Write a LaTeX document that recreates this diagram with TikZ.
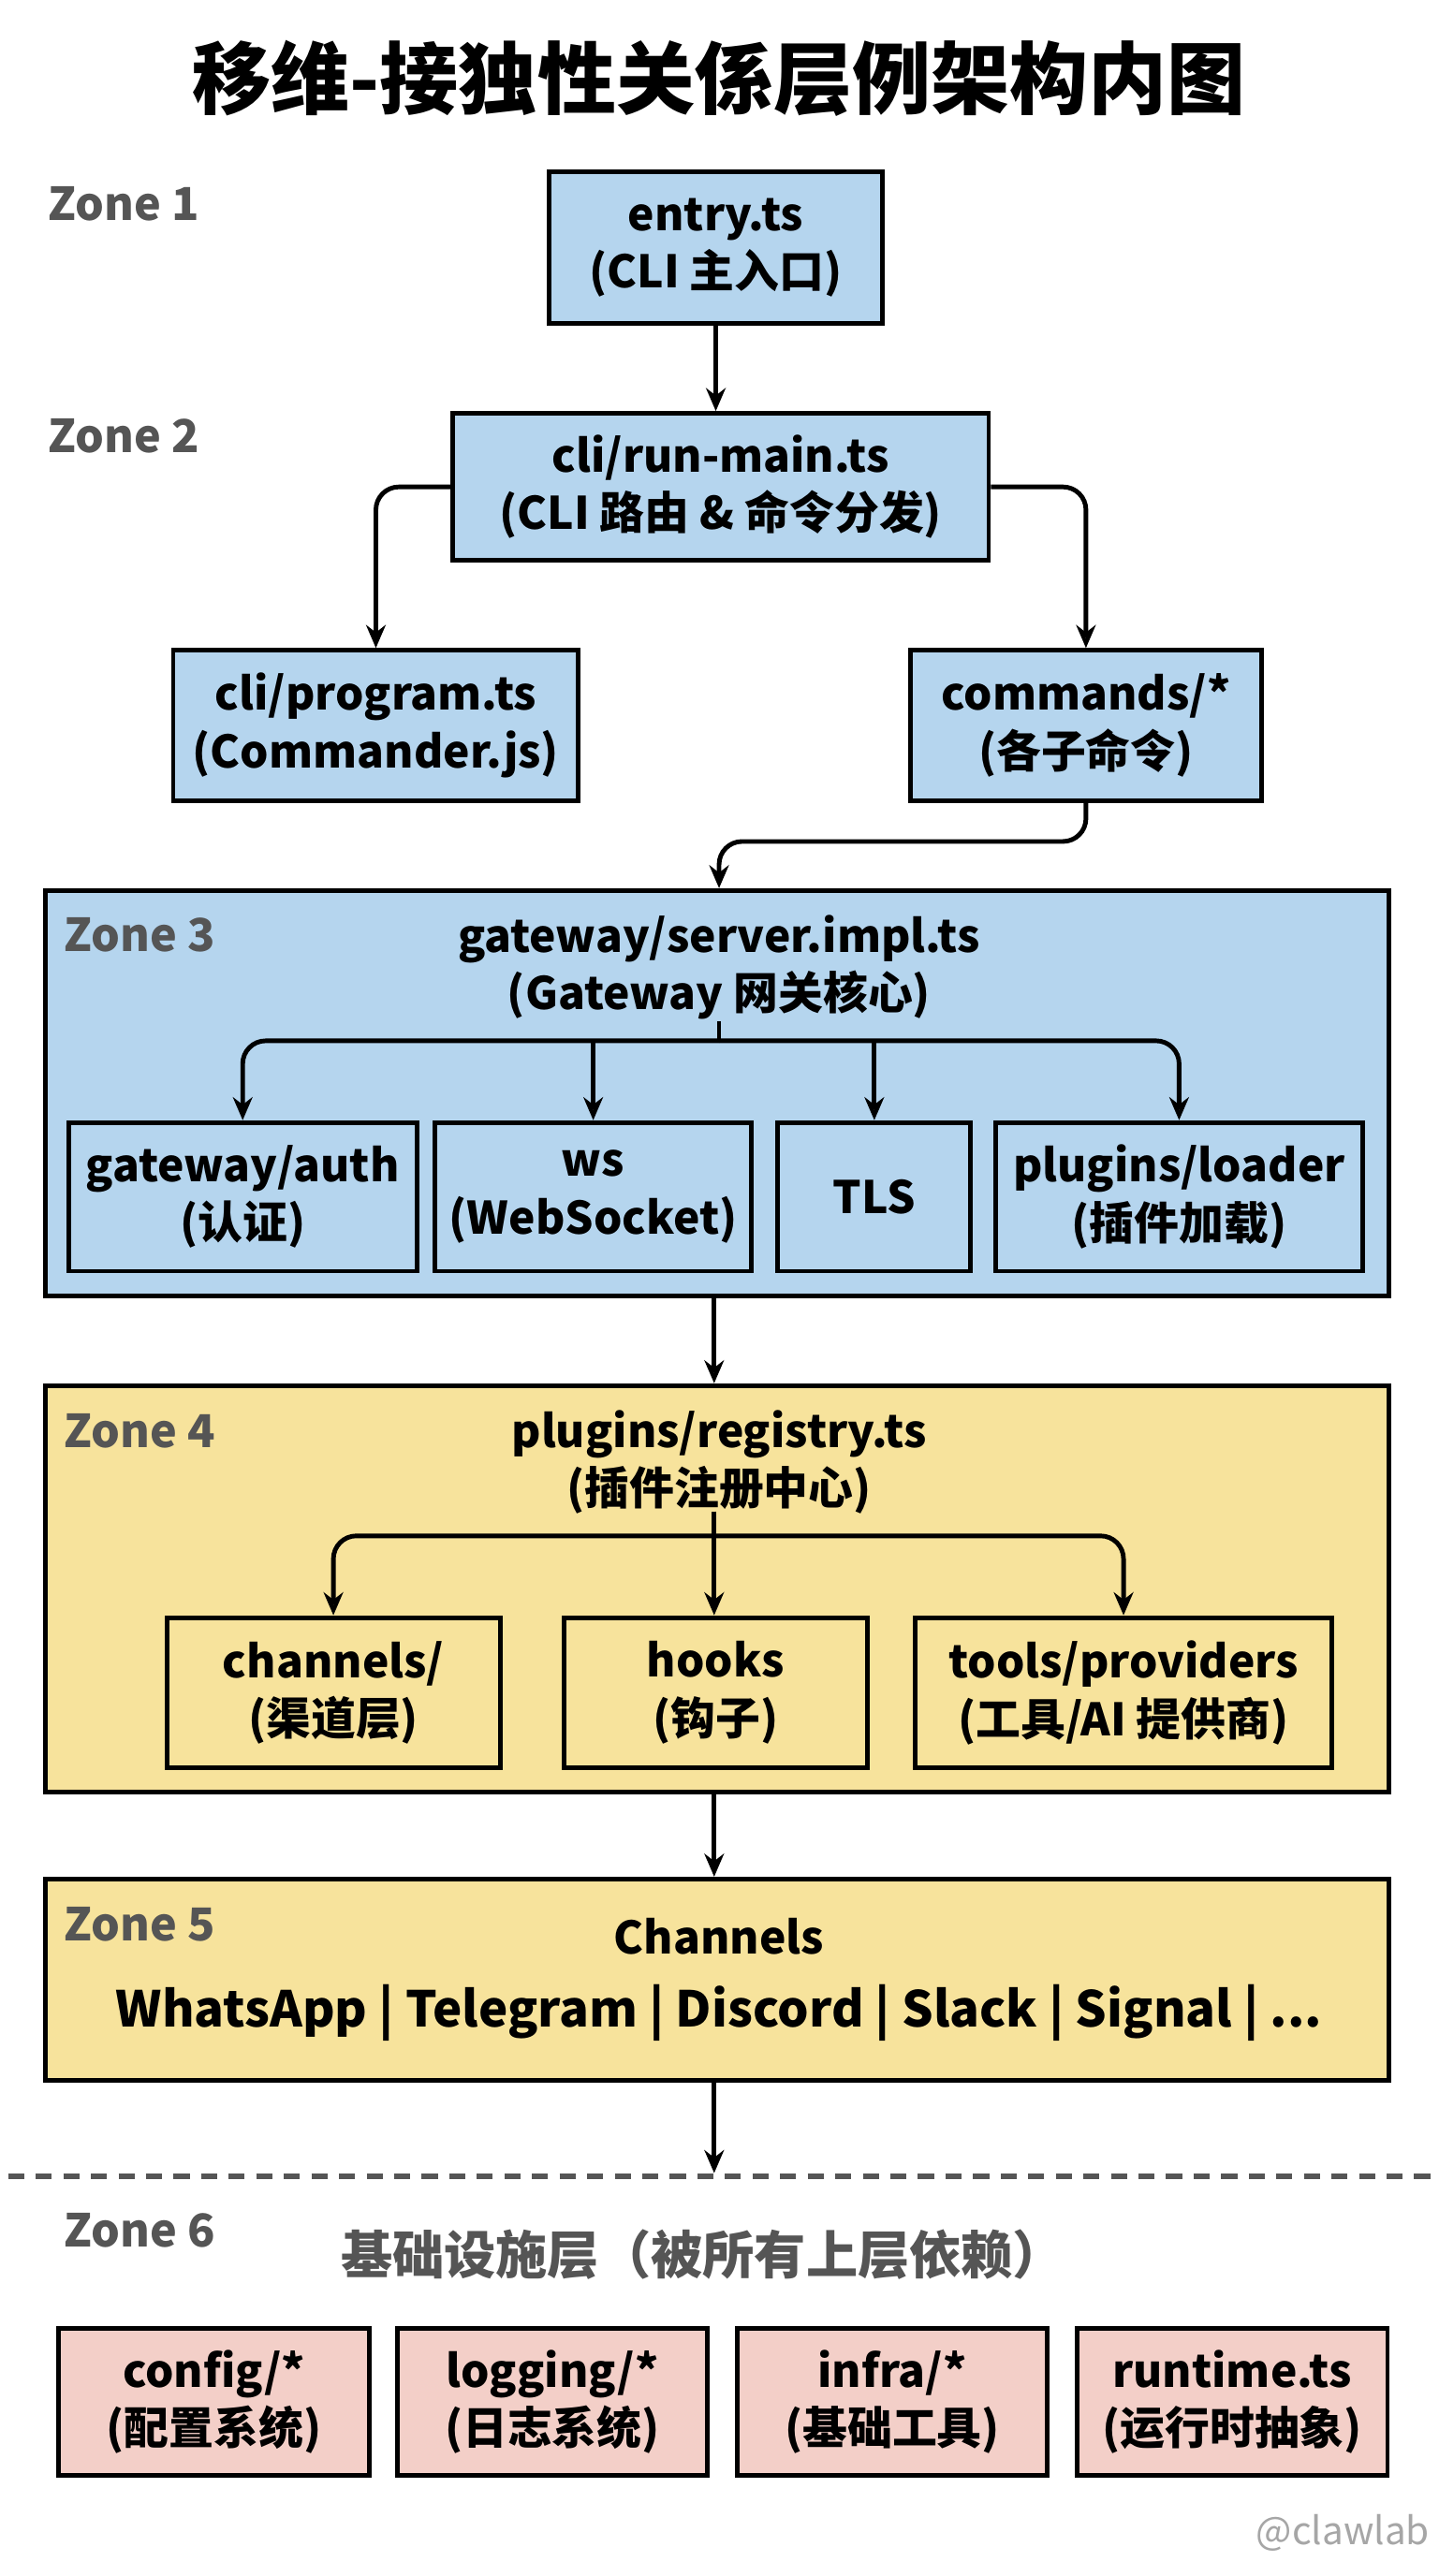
\documentclass[tikz,border=0pt]{standalone}
\usepackage{fontspec}
\setmainfont{Noto Sans CJK SC}
\usetikzlibrary{arrows.meta}
\definecolor{bl}{HTML}{B5D5EE}
\definecolor{yl}{HTML}{F7E39C}
\definecolor{pk}{HTML}{F3CFC8}
\definecolor{zg}{HTML}{555555}
\begin{document}
\begin{tikzpicture}[x=0.1cm,y=-0.1cm,
 bt/.style={font=\fontsize{78}{100}\selectfont\bfseries},
 box/.style={draw=black,line width=8pt,align=center,bt,inner sep=0pt},
 zone/.style={anchor=west,text=zg,font=\fontsize{79}{90}\selectfont\bfseries},
 arr/.style={line width=8pt,-{Stealth[length=40pt,width=34pt,open]},rounded corners=40pt}]
\useasboundingbox[fill=white] (0,0) rectangle (880,1576.6);
\node[font=\fontsize{137}{140}\selectfont\bfseries] (title) at (440,48) {移维-接独性关係层例架构内图};
\node[zone] (z1) at (28,125) {Zone 1};
\node[zone] (z2) at (28,267) {Zone 2};
% zone 1-2
\node[box,fill=bl,minimum width=20.4cm,minimum height=9.3cm] (entry) at (438,151.5) {entry.ts\\(CLI 主入口)};
\node[box,fill=bl,minimum width=32.8cm,minimum height=9cm] (run) at (441,298) {cli/run-main.ts\\(CLI 路由 \& 命令分发)};
\node[box,fill=bl,minimum width=24.8cm,minimum height=9.2cm] (prog) at (230,444) {cli/program.ts\\(Commander.js)};
\node[box,fill=bl,minimum width=21.5cm,minimum height=9.2cm] (cmd) at (664.5,444) {commands/*\\(各子命令)};
% zone 3
\node[box,fill=bl,minimum width=82.2cm,minimum height=24.8cm] (z3) at (439,669) {};
\node[zone] at (38,572) {Zone 3};
\node[align=center,bt] (gw) at (440,592) {gateway/server.impl.ts\\(Gateway 网关核心)};
\node[box,fill=bl,minimum width=21.3cm,minimum height=9.1cm] (auth) at (148.5,732.5) {gateway/auth\\(认证)};
\node[box,fill=bl,minimum width=19.4cm,minimum height=9.1cm] (ws) at (363,732.5) {ws\\(WebSocket)};
\node[box,fill=bl,minimum width=11.8cm,minimum height=9.1cm] (tls) at (535,732.5) {TLS};
\node[box,fill=bl,minimum width=22.5cm,minimum height=9.1cm] (ldr) at (721.5,732.5) {plugins/loader\\(插件加载)};
\coordinate (j3) at (440,637);
% zone 4
\node[box,fill=yl,minimum width=82.2cm,minimum height=24.9cm] (z4) at (439,972.5) {};
\node[zone] at (38,876) {Zone 4};
\node[align=center,bt] (reg) at (440,895) {plugins/registry.ts\\(插件注册中心)};
\node[box,fill=yl,minimum width=20.4cm,minimum height=9.2cm] (chn) at (204,1036) {channels/\\(渠道层)};
\node[box,fill=yl,minimum width=18.6cm,minimum height=9.2cm] (hk) at (438,1036) {hooks\\(钩子)};
\node[box,fill=yl,minimum width=25.5cm,minimum height=9.2cm] (tool) at (687.5,1036) {tools/providers\\(工具/AI 提供商)};
\coordinate (j4) at (437,940);
% zone 5
\node[box,fill=yl,minimum width=82.2cm,minimum height=12.3cm] (z5) at (439,1211.5) {};
\node[zone] at (38,1178) {Zone 5};
\node[bt] (chs) at (440,1185) {Channels};
\node[font=\fontsize{86}{100}\selectfont\bfseries] (chl) at (440,1232) {WhatsApp | Telegram | Discord | Slack | Signal | ...};
% zone 6
\draw[zg,line width=9pt,dash pattern=on 28pt off 20pt] (5,1332) -- (877,1332);
\coordinate (d6) at (437,1330);
\node[zone] at (38,1365) {Zone 6};
\node[text=zg,font=\fontsize{90}{100}\selectfont\bfseries] (z6t) at (430,1380) {基础设施层（被所有上层依赖）};
\node[box,fill=pk,minimum width=19cm,minimum height=9cm] (cfg) at (131,1470) {config/*\\(配置系统)};
\node[box,fill=pk,minimum width=19cm,minimum height=9cm] (log) at (338,1470) {logging/*\\(日志系统)};
\node[box,fill=pk,minimum width=19cm,minimum height=9cm] (inf) at (546,1470) {infra/*\\(基础工具)};
\node[box,fill=pk,minimum width=19cm,minimum height=9cm] (rt) at (754,1470) {runtime.ts\\(运行时抽象)};
\node[text=gray!70,anchor=east,font=\fontsize{66}{70}\selectfont] (wm) at (876,1550) {@clawlab};
% arrows
\draw[arr] (entry.south) -- (run.north -| entry.south);
\draw[arr] (run.west) -| (prog.north);
\draw[arr] (run.east) -| (cmd.north);
\draw[arr] (cmd.south) |- (440,515) -- (z3.north -| 440,0);
\draw[line width=8pt] (440,625) -- (j3);
\draw[arr] (j3) -| (auth.north);
\draw[arr] (j3) -| (ldr.north);
\draw[arr] (ws.north |- j3) -- (ws.north);
\draw[arr] (tls.north |- j3) -- (tls.north);
\draw[arr] (z3.south -| 437,0) -- (z4.north -| 437,0);
\draw[line width=8pt] (437,925) -- (j4);
\draw[arr] (j4) -| (chn.north);
\draw[arr] (j4) -| (tool.north);
\draw[arr] (j4) -- (hk.north -| j4);
\draw[arr] (z4.south -| 437,0) -- (z5.north -| 437,0);
\draw[arr] (z5.south -| 437,0) -- (d6);
\end{tikzpicture}
\end{document}
